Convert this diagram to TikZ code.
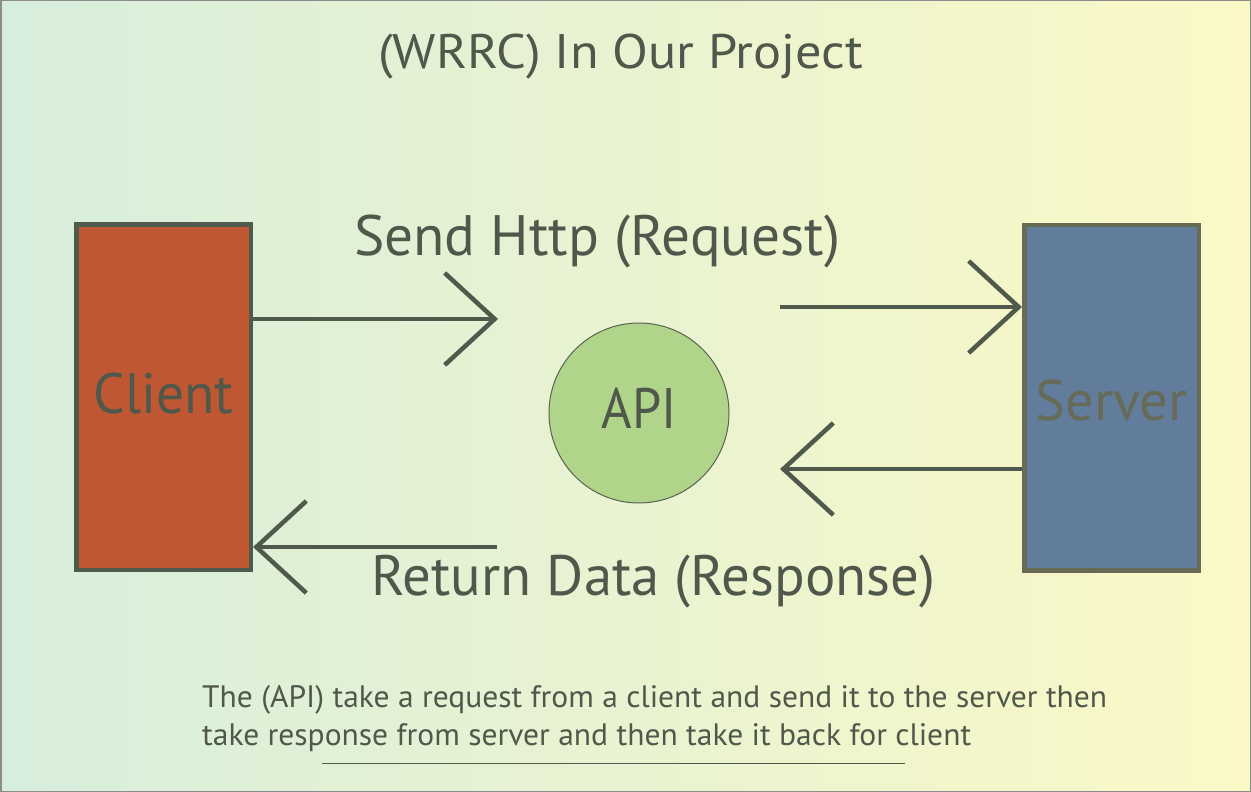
\documentclass[tikz,border=0pt]{standalone}
\usepackage{fontspec}
\setmainfont{PT Sans}
\usepackage{graphicx}
\usetikzlibrary{arrows.meta}
\definecolor{txt}{HTML}{4F584B}
\definecolor{bgL}{HTML}{D7EEDC}
\definecolor{bgR}{HTML}{FBF8C6}
\definecolor{clientfill}{HTML}{BF5733}
\definecolor{clientline}{HTML}{4F5A4C}
\definecolor{serverfill}{HTML}{617D9B}
\definecolor{serverline}{HTML}{676A55}
\definecolor{servertxt}{HTML}{676A57}
\definecolor{apifill}{HTML}{AFD48A}
\definecolor{apiline}{HTML}{5A6252}
\definecolor{framecol}{HTML}{8C8C8C}
\newsavebox\fitbox
\newcommand\fitw[2]{\sbox\fitbox{#2}\pgfmathsetmacro\fitr{#1/\wd\fitbox}\scalebox{\fitr}[1]{\usebox\fitbox}}
\begin{document}
\begin{tikzpicture}[x=1pt,y=-1pt,
  bigtext/.style={font=\fontsize{57}{60}\selectfont, text=txt, inner sep=0pt},
  smalltext/.style={font=\fontsize{31}{34}\selectfont, text=txt, inner sep=0pt, anchor=base west},
  box/.style={line width=4.5pt, minimum width=174.5pt, minimum height=345.5pt, inner sep=0pt},
  conn/.style={draw=clientline, line width=4.5pt, -{Straight Barb[length=50pt,width=92pt,sharp]}}]
\useasboundingbox (0,0) rectangle (1251,792);
\shade[left color=bgL, right color=bgR] (0,0) rectangle (1251,792);
\draw[framecol, line width=1.5pt] (0.75,0.75) rectangle (1250.25,791.25);
% title
\node[font=\fontsize{48.5}{50}\selectfont, text=txt, inner sep=0pt, anchor=base west] (title) at (378,69) {\fitw{485}{(WRRC) In Our Project}};
% boxes
\node[box, bigtext, draw=clientline, fill=clientfill] (client) at (163.5,397) {\raisebox{-16pt}[0pt][0pt]{\fitw{140}{Client}}};
\node[box, bigtext, draw=serverline, fill=serverfill, text=servertxt] (server) at (1111.5,397.5) {\raisebox{-22.5pt}[0pt][0pt]{\fitw{152}{Server}}};
\node[circle, draw=apiline, line width=1pt, fill=apifill, minimum size=180pt, bigtext] (api) at (639,413) {\raisebox{-15pt}[0pt][0pt]{\fitw{75}{API}}};
% labels
\node[bigtext, anchor=base west] (reqlabel) at (354,255) {\fitw{486}{Send Http (Request)}};
\node[bigtext, anchor=base west] (reslabel) at (371.5,595) {\fitw{563.5}{Return Data (Response)}};
% connectors
\coordinate (reqtip) at (498,319);
\coordinate (reqstart) at (780,307);
\coordinate (restip) at (780,469);
\coordinate (retstart) at (497,547);
\draw[conn] (client.east |- reqtip) -- (reqtip);
\draw[conn] (reqstart) -- (server.west |- reqstart);
\draw[conn] (server.west |- restip) -- (restip);
\draw[conn] (retstart) -- (client.east |- retstart);
% description
\node[smalltext] (desc1) at (202,707) {\fitw{905}{The (API) take a request from a client and send it to the server then}};
\node[smalltext] (desc2) at (202,745) {\fitw{769}{take response from server and then take it back for client}};
\coordinate (ulstart) at (322,763);
\coordinate (ulend) at (905,763);
\draw[txt, line width=1pt] (ulstart) -- (ulend);
\end{tikzpicture}
\end{document}
